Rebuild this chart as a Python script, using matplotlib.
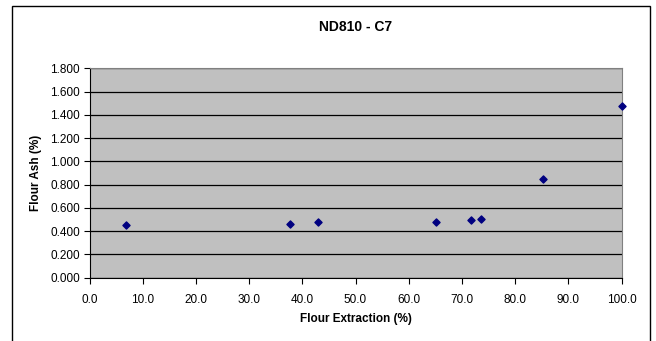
import matplotlib.pyplot as plt
import matplotlib.patches as patches
import numpy as np

plt.rcParams['font.family'] = ['Liberation Sans', 'DejaVu Sans']

# data
extraction = [6.8, 37.7, 43.0, 65.1, 71.7, 73.6, 85.2, 100.0]
ash = [0.450, 0.465, 0.474, 0.474, 0.493, 0.502, 0.847, 1.478]

x_ticks = np.arange(0, 101, 10)
y_ticks = np.arange(0, 1.81, 0.2)

fig = plt.figure(figsize=(6.56, 3.41), dpi=100)
ax = fig.add_axes([89.5 / 656, 1 - 277.5 / 341, 532 / 656, 209 / 341])

# outer chart border
fig.patches.append(patches.Rectangle((11.5 / 656, -0.05), 638 / 656, 1.05 - 5.5 / 341,
                                     transform=fig.transFigure, fill=False,
                                     edgecolor='black', linewidth=1.0))

ax.set_facecolor('#C0C0C0')
ax.scatter(extraction, ash, marker='D', s=13, color='#000080', zorder=3, clip_on=False)

ax.set_xlim(0, 100)
ax.set_ylim(0, 1.8)
ax.set_xticks(x_ticks)
ax.set_xticklabels([f"{v:.1f}" for v in x_ticks])
ax.set_yticks(y_ticks)
ax.set_yticklabels([f"{v:.3f}" for v in y_ticks])

ax.yaxis.grid(True, color='black', linewidth=0.9)
ax.set_axisbelow(True)

for side in ['top', 'right']:
    ax.spines[side].set_color('#808080')
for side in ['left', 'bottom']:
    ax.spines[side].set_color('black')

ax.tick_params(direction='out', length=4, width=0.8, labelsize=8.5)
ax.tick_params(axis='x', pad=8)
ax.tick_params(axis='y', pad=3)

ax.set_title("ND810 - C7", fontsize=10, fontweight='bold', pad=27)
ax.set_xlabel("Flour Extraction (%)", fontsize=8.5, fontweight='bold', labelpad=5)
ax.set_ylabel("Flour Ash (%)", fontsize=8.5, fontweight='bold', labelpad=6)

fig.savefig("out.png", dpi=100)
